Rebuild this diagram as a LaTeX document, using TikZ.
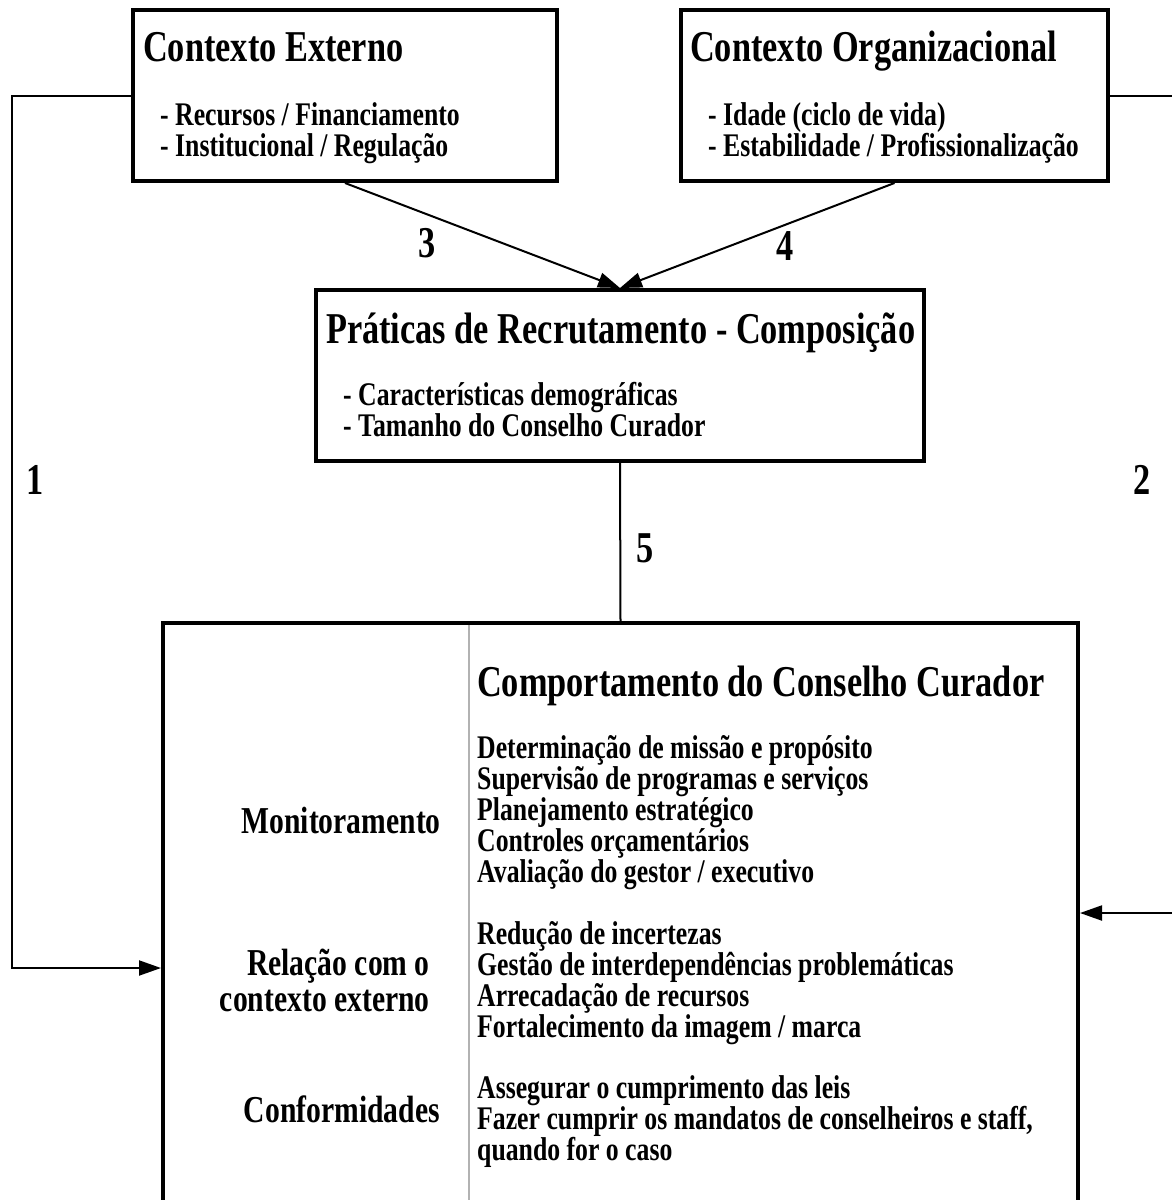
\documentclass[tikz,border=0pt]{standalone}
\usepackage{fontspec}
\setmainfont{Liberation Serif}[FakeStretch=0.78]
\usetikzlibrary{arrows.meta}

\tikzset{
  box/.style={draw, rectangle, line width=4pt, inner sep=0pt},
  ttl/.style={font=\fontsize{44}{50}\selectfont\bfseries, anchor=base west, inner sep=0pt},
  itm/.style={font=\fontsize{33}{31}\selectfont\bfseries, anchor=base west, inner sep=0pt},
  lbl/.style={font=\fontsize{38}{34}\selectfont\bfseries, anchor=base east, inner sep=0pt},
  num/.style={font=\fontsize{44}{50}\selectfont\bfseries, inner sep=0pt},
  link/.style={line width=2pt},
  arr/.style={link, -{Triangle[length=22pt,width=15pt]}},
  divider/.style={line width=1.5pt, gray!60}
}

\begin{document}
\begin{tikzpicture}[x=1pt,y=-1pt]
    \useasboundingbox (0,0) rectangle (1171,1200);

    \node[box, minimum width=424, minimum height=171] (ext) at (345,95.5) {};
    \node[box, minimum width=427, minimum height=171] (org) at (894.5,95.5) {};
    \node[box, minimum width=608, minimum height=171] (prat) at (620,375.5) {};
    \node[box, minimum width=915, minimum height=700] (comp) at (620.5,973) {};
    \draw[divider] (469,625) -- (469,1200);

    \node[ttl] (extT) at (143,61) {Contexto Externo};
    \node[itm] (ext1) at (160,125) {- Recursos / Financiamento};
    \node[itm] (ext2) at (160,156) {- Institucional / Regulação};

    \node[ttl] (orgT) at (690,61) {Contexto Organizacional};
    \node[itm] (org1) at (708,125) {- Idade (ciclo de vida)};
    \node[itm] (org2) at (708,156) {- Estabilidade / Profissionalização};

    \node[ttl] (pratT) at (326,343) {Práticas de Recrutamento - Composição};
    \node[itm] (prat1) at (343,405) {- Características demográficas};
    \node[itm] (prat2) at (343,436) {- Tamanho do Conselho Curador};

    \node[ttl] (compT) at (477,696) {Comportamento do Conselho Curador};

    % itens do comportamento
    \foreach \t [count=\i] in {Determinação de missão e propósito,
        Supervisão de programas e serviços, Planejamento estratégico,
        Controles orçamentários, Avaliação do gestor / executivo}
      \node[itm] (mon\i) at (477,727+31*\i) {\t};
    \foreach \t [count=\i] in {Redução de incertezas,
        Gestão de interdependências problemáticas, Arrecadação de recursos,
        Fortalecimento da imagem / marca}
      \node[itm] (rel\i) at (477,913+31*\i) {\t};
    \foreach \t [count=\i] in {Assegurar o cumprimento das leis,
        {Fazer cumprir os mandatos de conselheiros e staff,}, quando for o caso}
      \node[itm] (conf\i) at (477,1067+31*\i) {\t};

    \node[lbl] (lmon) at (441,833) {Monitoramento};
    \node[lbl] (lrel1) at (430,975) {Relação com o};
    \node[lbl] (lrel2) at (430,1011) {contexto externo};
    \node[lbl] (lconf) at (440,1122) {Conformidades};

    \node[num] (n1) at (35,480) {1};
    \node[num] (n2) at (1142,480) {2};
    \node[num] (n3) at (427,243) {3};
    \node[num] (n4) at (785,246) {4};
    \node[num] (n5) at (645,548) {5};

    \coordinate (c1) at (12,968);
    \coordinate (r1) at (1175,95.5);
    \coordinate (r2) at (1175,913);

    \draw[arr] (ext.west) -| (c1) -- (c1 -| comp.west);
    \draw[link] (org.east) -- (r1);
    \draw[arr] (r2) -- (r2 -| comp.east);
    \draw[arr] (ext.south) -- (prat.north);
    \draw[arr] (org.south) -- (prat.north);
    \draw[link] (prat.south) -- (comp.north);
\end{tikzpicture}
\end{document}
